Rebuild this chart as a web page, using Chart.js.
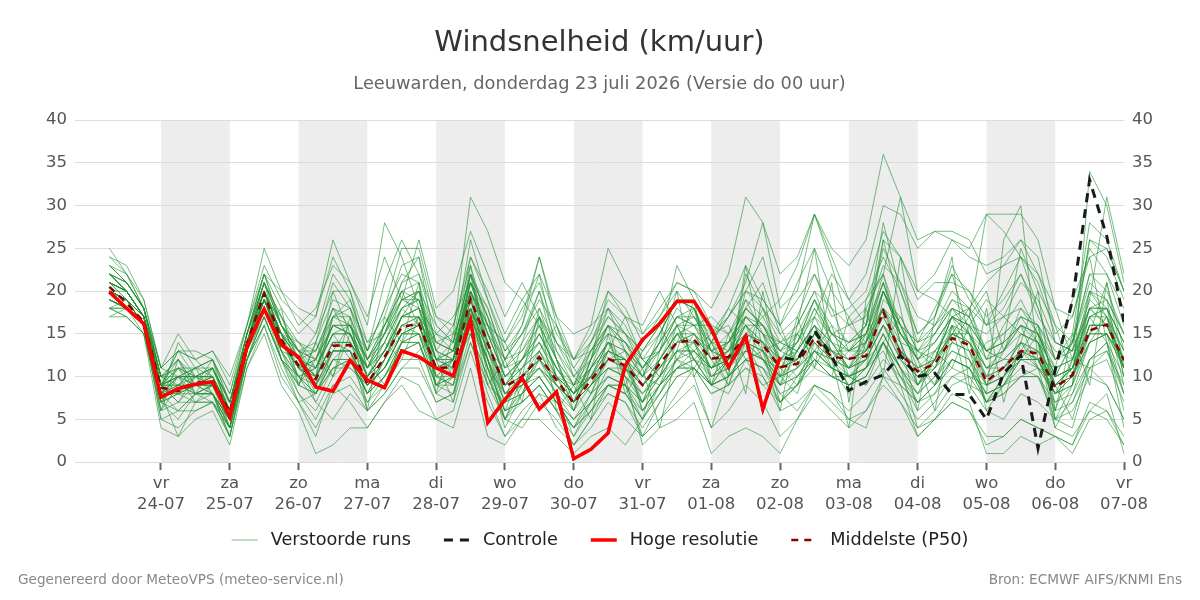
<!DOCTYPE html>
<html>
<head>
<meta charset="utf-8">
<title>Windsnelheid</title>
<script src="https://cdn.jsdelivr.net/npm/chart.js@4.4.1/dist/chart.umd.min.js"></script>
<style>
  body { margin: 0; background: #fff; }
  canvas { display: block; }
</style>
</head>
<body>
<canvas id="wind-chart" width="1200" height="600"></canvas>
<script>
// forecast hours after 23-07 00:00 (6-hourly)
const hours = [6, 12, 18, 24, 30, 36, 42, 48, 54, 60, 66, 72, 78, 84, 90, 96, 102, 108, 114, 120,
    126, 132, 138, 144, 150, 156, 162, 168, 174, 180, 186, 192, 198, 204, 210, 216, 222, 228, 234, 240,
    246, 252, 258, 264, 270, 276, 282, 288, 294, 300, 306, 312, 318, 324, 330, 336, 342, 348, 354, 360];

const dayTicks = [24, 48, 72, 96, 120, 144, 168, 192, 216, 240, 264, 288, 312, 336, 360];
const dayNames = ['vr', 'za', 'zo', 'ma', 'di', 'wo', 'do', 'vr', 'za', 'zo', 'ma', 'di', 'wo', 'do', 'vr'];
const dayDates = ['24-07', '25-07', '26-07', '27-07', '28-07', '29-07', '30-07', '31-07', '01-08', '02-08',
    '03-08', '04-08', '05-08', '06-08', '07-08'];
const shadedDays = [[24, 48], [72, 96], [120, 144], [168, 192], [216, 240], [264, 288], [312, 336]];

const seriesNames = ['Verstoorde runs', 'Controle', 'Hoge resolutie', 'Middelste (P50)'];

// hoge resolutie run (tot 10 dagen)
const hiresValues = [19.9, 18.0, 16.2, 7.6, 8.6, 9.1, 9.4, 5.3, 13.5, 17.9, 13.7, 12.3, 8.8, 8.3, 11.9,
    9.6, 8.7, 13.0, 12.3, 11.0, 10.1, 16.6, 4.6, 7.3, 9.8, 6.2, 8.2, 0.4, 1.5, 3.4, 11.3,
    14.3, 16.2, 18.8, 18.8, 15.6, 11.1, 14.7, 6.2, 12.3];

const controlValues = [19.9, 18.0, 16.2, 7.6, 8.6, 9.1, 9.4, 5.3, 13.5, 17.9, 13.7, 12.3, 8.8, 8.3, 11.9,
    9.6, 8.7, 13.0, 12.3, 11.0, 10.1, 16.6, 4.6, 7.3, 9.8, 6.2, 8.2, 0.4, 1.5, 3.4, 11.3,
    14.3, 16.2, 18.8, 18.8, 15.6, 11.1, 14.7, 6.2, 12.3,
    11.9, 15.4, 12.4, 8.4, 9.4, 10.2, 12.5, 10.0, 10.4, 7.9, 7.9, 5.0, 10.4, 12.5, 1.6, 10.8,
    18.9, 33.0, 26.4, 16.4];

const medianValues = [20.5, 18.6, 16.4, 8.7, 8.3, 9.3, 9.4, 5.9, 13.9, 19.7, 14.3, 11.3, 9.7, 13.6, 13.7,
    9.2, 12.3, 15.8, 16.2, 11.0, 11.1, 19.1, 13.9, 8.8, 10.0, 12.3, 9.6, 6.9, 9.6, 12.1, 11.3,
    9.0, 11.5, 14.0, 14.3, 12.1, 12.3, 14.7, 13.7, 11.1, 11.5, 14.5, 12.3, 12.1, 12.4, 17.6, 12.7,
    10.6, 11.5, 14.5, 13.7, 9.4, 11.1, 13.0, 12.7, 8.7, 10.2, 15.4, 16.1, 11.9];

// verstoorde runs
const memberRuns = [
    [23,21,18, 10,12,9,11, 7,15,21,17, 14,12,16,15, 11,15,19,20, 13,10,22,17, 9,12,15,11, 8,11,14,10, 7,10,16,17, 14,11,17,15, 9,13,18,14, 11,15,22,16, 12,9,16,12, 7,10,15,14, 6,12,19,17, 13],
    [19,18,16, 7,6,8,8, 4,13,18,13, 10,7,11,12, 8,10,13,14, 9,8,17,11, 6,8,10,7, 4,7,9,8, 6,9,12,11, 9,10,12,11, 8,9,12,10, 10,9,14,11, 8,10,12,11, 8,9,11,10, 7,8,12,14, 10],
    [25,22,19, 11,15,12,13, 9,16,25,20, 18,17,26,21, 16,28,24,18, 15,13,24,19, 14,17,24,16, 12,13,17,15, 11,14,18,16, 17,15,19,17, 13,16,20,15, 14,16,21,15, 13,16,19,17, 12,13,17,14, 9,11,18,16, 12],
    [17,17,15, 4,3,5,6, 2,11,15,9, 6,1,2,4, 4,7,9,6, 5,4,11,3, 2,5,5,3, 1,3,4,2, 5,8,12,14, 9,12,16,13, 10,8,14,11, 13,15,21,14, 9,12,18,15, 11,13,16,14, 4,8,14,17, 9],
    [21,20,17, 9,8,10,10, 6,14,20,15, 12,10,14,14, 10,12,16,17, 11,12,20,14, 8,10,13,9, 7,9,12,12, 9,11,14,15, 12,13,15,14, 11,12,15,13, 12,13,18,13, 10,12,15,14, 10,11,13,13, 9,10,16,16, 12],
    [22,20,17, 8,14,11,12, 5,13,19,15, 9,14,19,18, 13,18,22,21, 10,12,23,13, 11,14,17,12, 7,12,16,14, 10,14,17,16, 16,10,22,18, 15,12,16,11, 8,14,26,18, 9,13,16,15, 6,9,12,15, 10,14,22,20, 15],
    [20,19,17, 9,10,9,8, 5,14,19,13, 8,6,10,12, 7,9,14,15, 12,13,20,10, 5,9,12,10, 6,11,14,12, 7,12,15,13, 11,14,18,16, 12,14,19,16, 14,16,25,21, 15,17,22,20, 16,18,22,17, 14,13,26,24, 19],
    [18,18,16, 6,7,7,7, 4,13,18,14, 11,9,13,13, 8,12,15,16, 10,9,18,13, 7,9,11,8, 5,8,10,9, 3,5,8,11, 14,17,20,19, 16,19,22,17, 18,20,27,24, 20,22,26,25, 29,27,24,18, 12,15,28,26, 20],
    [22,21,18, 10,9,11,12, 8,15,22,16, 13,11,15,16, 12,16,20,21, 14,15,31,27, 21,19,16,10, 9,13,15,14, 12,10,12,15, 13,9,14,10, 7,10,13,12, 14,15,18,12, 9,11,16,14, 11,12,12,12, 8,10,17,18, 14],
    [19,18,16, 7,5,8,9, 4,12,17,12, 10,8,12,11, 9,11,14,14, 8,10,16,12, 6,11,15,11, 8,10,12,13, 11,13,16,15, 13,15,17,15, 14,13,16,14, 12,14,17,13, 11,13,15,15, 13,12,14,11, 10,11,15,17, 11],
    [24,22,18, 11,13,12,13, 10,16,23,19, 17,15,20,20, 14,17,23,24, 16,14,26,19, 13,15,20,14, 11,14,18,16, 12,13,17,16, 14,14,18,16, 13,14,17,15, 13,14,20,15, 12,14,17,16, 13,14,16,15, 12,13,18,18, 14],
    [20,19,16, 8,9,8,9, 5,13,19,14, 11,9,13,13, 6,9,12,12, 7,8,14,9, 5,7,9,6, 3,6,8,7, 4,7,10,11, 9,10,12,11, 7,9,11,10, 9,10,14,10, 7,9,12,11, 7,8,10,10, 5,7,11,12, 7],
    [21,19,16, 8,3,7,8, 3,13,20,15, 12,10,14,13, 9,11,15,15, 11,12,19,14, 9,10,12,8, 3,7,11,10, 2,4,5,7, 1,3,4,3, 1,5,9,7, 5,4,10,9, 3,5,8,7, 1,1,3,2, 3,2,6,8, 1],
    [22,20,17, 9,10,10,9, 7,14,21,16, 13,12,16,15, 10,13,17,18, 12,11,20,16, 10,12,14,10, 8,10,13,11, 9,12,15,16, 12,13,15,14, 11,12,15,13, 12,13,17,13, 11,12,15,14, 9,11,14,13, 9,10,16,16, 12],
    [18,17,15, 7,8,7,7, 5,12,17,12, 9,8,12,12, 8,10,14,14, 9,10,17,12, 8,9,11,9, 7,9,11,10, 8,11,13,13, 11,12,14,13, 10,11,13,12, 11,12,16,12, 10,11,14,13, 9,10,12,12, 8,9,14,15, 11],
    [23,21,18, 10,11,10,11, 7,15,20,16, 12,7,5,8, 6,8,11,13, 15,17,21,15, 12,16,24,17, 12,16,25,21, 15,17,21,20, 18,22,31,28, 22,24,29,25, 23,26,36,31, 26,27,27,26, 22,23,24,22, 18,17,25,22, 18],
    [20,19,17, 9,9,9,10, 6,14,19,14, 11,12,18,16, 13,18,25,25, 17,15,19,11, 8,9,10,7, 4,6,9,8, 5,9,11,12, 9,10,13,12, 9,10,12,11, 10,11,15,11, 4,6,9,10, 7,9,13,11, 4,3,6,5, 2],
    [21,20,17, 9,10,11,10, 6,14,20,15, 13,14,21,18, 14,15,18,16, 11,10,18,12, 5,4,7,5, 2,5,9,9, 7,10,13,12, 9,8,12,13, 14,16,20,18, 16,17,23,21, 17,16,18,16, 15,17,21,19, 14,13,18,19, 15],
    [19,18,16, 8,11,9,9, 5,13,18,12, 8,5,9,10, 7,10,13,14, 8,7,14,8, 3,6,8,7, 4,8,12,12, 10,15,19,18, 13,12,14,12, 8,6,9,8, 6,8,11,8, 5,7,10,11, 14,15,17,16, 13,12,20,17, 11],
    [22,21,18, 10,8,9,10, 6,14,21,16, 14,13,17,16, 12,14,18,19, 13,12,21,16, 12,15,18,14, 10,13,16,15, 13,15,19,19, 15,17,20,18, 14,13,16,12, 9,10,14,9, 7,9,11,10, 9,10,12,11, 8,9,15,15, 8],
    [19,18,15, 7,9,8,8, 5,13,19,14, 11,10,14,14, 9,11,15,16, 11,11,19,13, 9,10,12,9, 7,9,11,11, 8,10,13,14, 11,12,14,13, 11,14,19,15, 13,15,21,16, 14,16,20,18, 16,17,18,16, 12,14,21,19, 15],
    [20,19,17, 9,13,10,9, 5,14,20,14, 12,15,22,19, 13,21,26,22, 17,16,23,16, 14,18,21,15, 12,14,19,17, 15,18,21,20, 16,15,18,16, 12,10,12,10, 9,11,14,10, 6,8,10,9, 6,5,8,7, 5,6,10,9, 5],
    [21,20,17, 8,10,10,11, 7,14,19,15, 10,8,11,12, 9,12,16,17, 10,9,17,12, 7,8,10,7, 5,7,9,9, 7,9,11,12, 10,11,13,12, 10,12,15,13, 10,12,20,15, 12,15,19,18, 13,15,17,16, 9,11,18,16, 11],
    [18,18,16, 5,6,6,7, 3,12,16,10, 7,8,11,11, 9,12,16,15, 9,10,18,13, 9,11,13,10, 7,9,13,12, 6,9,12,13, 11,13,16,16, 13,12,14,12, 10,11,13,9, 7,8,12,11, 8,9,10,11, 9,10,14,15, 12],
    [22,20,17, 10,11,10,11, 6,15,21,17, 12,10,17,18, 11,15,20,19, 12,14,22,12, 5,10,18,12, 6,11,16,9, 5,13,20,10, 4,10,23,13, 6,16,25,12, 4,19,22,14, 6,17,24,9, 8,26,30,12, 11,19,24,14, 4],
    [20,19,16, 8,8,9,9, 5,14,19,14, 10,11,16,16, 10,14,18,19, 14,13,21,18, 12,13,17,13, 10,12,16,14, 11,14,17,18, 14,13,17,15, 13,15,19,14, 11,13,16,14, 9,12,17,15, 11,12,14,12, 10,11,17,17, 13],
    [21,20,17, 9,7,9,10, 6,13,19,14, 11,12,17,17, 12,15,19,19, 12,13,20,15, 10,12,15,11, 9,10,14,13, 10,13,16,16, 13,14,16,14, 12,13,16,14, 13,13,18,15, 12,14,17,15, 12,13,15,14, 11,12,17,18, 12],
    [19,18,16, 8,6,8,8, 5,12,17,12, 7,4,8,9, 6,8,11,11, 7,8,15,10, 6,7,9,6, 2,5,8,7, 3,7,10,11, 8,9,11,9, 7,9,12,10, 9,10,14,11, 7,9,12,11, 7,8,10,10, 6,7,12,13, 8],
    [23,21,18, 11,10,11,12, 7,15,22,16, 13,9,12,14, 11,14,19,20, 14,13,21,17, 13,16,22,17, 15,16,18,15, 13,16,19,18, 12,9,15,17, 19,23,29,24, 19,22,30,29, 25,27,26,24, 23,24,26,22, 16,14,26,25, 20],
    [20,19,17, 7,10,8,8, 4,13,18,13, 10,11,15,15, 10,13,17,18, 12,12,20,15, 10,11,13,9, 6,9,12,11, 9,12,15,14, 10,11,14,13, 9,10,13,11, 10,11,15,11, 8,10,13,12, 8,9,12,12, 7,9,34,30, 21],
    [21,19,17, 9,12,10,10, 6,14,20,15, 12,10,14,14, 11,13,17,17, 12,11,19,14, 8,10,12,9, 7,10,12,11, 9,11,14,15, 11,12,14,12, 11,13,16,13, 13,14,18,14, 13,15,18,17, 13,14,16,15, 10,11,16,16, 12],
    [20,19,16, 8,9,9,9, 6,14,20,15, 11,9,13,13, 9,11,15,15, 10,10,17,12, 7,8,10,7, 5,7,10,9, 6,8,11,11, 8,9,11,10, 6,7,9,8, 5,6,9,7, 4,5,7,6, 3,3,5,4, 3,2,7,6, 3],
    [22,20,17, 9,11,11,11, 7,14,20,16, 13,12,16,16, 12,16,21,22, 15,14,22,17, 11,13,16,12, 9,11,14,13, 11,13,17,17, 13,14,17,15, 12,14,18,15, 14,15,20,15, 13,14,17,16, 13,14,16,15, 11,12,18,18, 14],
    [19,18,16, 7,8,8,9, 5,13,18,13, 9,8,12,12, 8,10,14,15, 9,9,16,11, 6,7,9,6, 4,6,9,8, 5,8,11,11, 9,10,12,11, 9,11,13,11, 10,11,15,11, 9,11,13,12, 9,10,13,12, 8,10,14,15, 11],
    [21,20,17, 9,9,10,10, 6,14,21,16, 12,11,16,15, 10,13,17,18, 13,12,20,16, 11,12,16,12, 9,12,15,14, 11,14,23,19, 14,17,21,28, 18,20,29,23, 16,18,22,31, 20,19,17,18, 21,23,26,24, 14,13,19,31, 22],
    [22,20,17, 10,10,10,10, 6,14,19,15, 13,13,18,17, 11,13,16,16, 11,12,18,14, 9,11,14,10, 8,11,13,12, 10,12,15,15, 12,14,17,16, 14,15,17,13, 11,14,20,16, 14,15,18,17, 29,29,29,26, 18,12,11,9, 5],
    [20,19,16, 8,8,9,8, 5,13,19,14, 11,10,13,13, 9,11,15,16, 11,10,18,13, 8,9,11,9, 7,9,11,10, 8,10,13,13, 10,12,13,12, 10,11,14,12, 11,12,16,12, 10,12,14,13, 10,11,13,12, 9,11,16,16, 11],
    [21,20,17, 9,10,10,11, 6,14,20,15, 12,11,15,15, 10,12,17,17, 12,12,21,15, 10,12,14,11, 8,10,13,12, 9,11,14,14, 11,12,15,14, 12,12,15,13, 11,12,16,13, 11,12,15,14, 11,11,14,13, 10,11,15,15, 12],
    [18,19,17, 6,9,11,8, 3,12,16,18, 9,14,10,17, 6,17,14,21, 8,15,15,9, 12,7,17,6, 9,5,15,8, 11,4,13,19, 9,15,8,20, 10,17,11,21, 7,18,10,24, 12,6,16,8, 18,7,14,20, 6,15,9,21, 11],
    [24,23,19, 11,13,13,12, 8,16,22,20, 16,18,23,21, 17,24,19,26, 18,20,27,22, 17,21,17,14, 12,15,20,18, 14,17,20,17, 15,18,23,19, 16,21,25,20, 17,19,24,20, 15,17,23,19, 16,20,24,21, 15,17,24,25, 20],
    [17,18,16, 5,4,6,7, 3,11,16,11, 7,3,9,7, 4,7,10,9, 5,6,13,7, 3,5,8,4, 2,4,7,5, 3,5,7,9, 4,6,9,7, 3,5,8,6, 4,6,10,7, 3,5,7,6, 2,3,5,4, 3,1,5,6, 2],
    [21,20,17, 10,12,9,12, 7,15,22,18, 15,17,24,20, 12,15,21,24, 13,16,24,20, 15,19,22,13, 9,14,17,15, 12,15,19,18, 10,12,18,21, 15,17,22,18, 13,16,26,24, 19,21,21,20, 17,19,22,18, 12,14,22,22, 16],
    [20,19,17, 8,10,7,9, 5,14,19,17, 13,10,20,15, 11,14,12,17, 14,13,18,9, 7,14,20,12, 7,12,20,17, 16,20,16,12, 9,12,20,24, 16,11,17,22, 19,16,28,20, 14,18,22,15, 10,14,25,20, 16,10,15,21, 13],
    [22,21,18, 9,11,8,11, 7,13,17,12, 10,9,17,19, 13,16,20,16, 10,12,17,16, 14,10,11,8, 6,12,18,13, 10,9,11,13, 15,16,12,9, 10,13,11,15, 16,14,18,16, 12,13,11,16, 19,17,15,14, 9,5,12,14, 8],
    [19,18,16, 9,7,10,8, 4,14,20,12, 9,12,10,15, 12,9,14,17, 12,7,18,11, 4,8,13,16, 11,8,10,9, 13,16,12,10, 14,18,16,12, 9,15,12,10, 17,13,20,16, 11,9,14,17, 20,13,16,11, 8,12,17,14, 6],
    [23,22,18, 9,13,12,10, 6,15,21,14, 12,8,13,16, 10,13,18,20, 9,12,22,18, 12,15,19,16, 10,8,13,17, 12,10,15,12, 14,10,13,18, 12,15,13,16, 10,12,14,17, 13,11,15,18, 12,16,19,15, 10,14,20,18, 10],
    [20,20,17, 8,10,9,10, 4,13,18,15, 14,11,15,12, 8,12,17,20, 16,14,22,14, 9,12,17,10, 8,13,16,13, 6,9,14,18, 13,12,16,14, 7,9,15,12, 9,11,19,17, 13,12,17,16, 9,13,18,15, 5,9,20,19, 10],
    [18,17,15, 6,12,8,7, 4,12,18,13, 12,13,18,14, 11,16,19,18, 9,11,15,10, 5,8,12,10, 8,10,14,11, 7,12,16,12, 11,13,19,15, 11,9,13,11, 10,9,12,10, 8,12,17,13, 7,10,13,16, 5,4,11,13, 9]
];

const memberColor = 'rgba(34, 145, 50, 0.6)';

function toPoints(values) {
    return values.map((v, i) => ({ x: hours[i], y: v }));
}

const datasets = [
    {
        label: seriesNames[2],
        data: toPoints(hiresValues),
        borderColor: '#ff0000',
        borderWidth: 3.5,
        order: 0
    },
    {
        label: seriesNames[1],
        data: toPoints(controlValues),
        borderColor: '#1a1a1a',
        borderWidth: 3,
        borderDash: [9, 7],
        order: 1
    },
    {
        label: seriesNames[3],
        data: toPoints(medianValues),
        borderColor: '#8b0000',
        borderWidth: 2.5,
        borderDash: [7, 6],
        order: 2
    }
];

memberRuns.forEach((run, i) => {
    datasets.push({
        label: i === 0 ? seriesNames[0] : '',
        data: toPoints(run),
        borderColor: memberColor,
        borderWidth: 1,
        order: 3
    });
});

// grey background for every other day
const dayBands = {
    id: 'dayBands',
    beforeDraw(chart) {
        const { ctx, chartArea, scales } = chart;
        ctx.save();
        ctx.fillStyle = '#ededed';
        shadedDays.forEach(([from, to]) => {
            const x0 = scales.x.getPixelForValue(from);
            const x1 = scales.x.getPixelForValue(to);
            ctx.fillRect(x0, chartArea.top, x1 - x0, chartArea.bottom - chartArea.top);
        });
        ctx.restore();
    }
};

// legend with line samples + footer texts
const lineLegend = {
    id: 'lineLegend',
    afterDraw(chart) {
        const ctx = chart.ctx;
        const items = seriesNames.map(name => chart.data.datasets.find(d => d.label === name));
        const sampleW = 26, gapText = 13, gapItem = 33, y = 540;
        ctx.save();
        ctx.font = "17.7px 'DejaVu Sans', sans-serif";
        ctx.textBaseline = 'middle';
        let total = 0;
        items.forEach((d, i) => {
            total += sampleW + gapText + ctx.measureText(d.label).width;
            if (i < items.length - 1) total += gapItem;
        });
        let x = (chart.width - total) / 2;
        items.forEach(d => {
            ctx.strokeStyle = d.borderColor;
            ctx.lineWidth = d.borderWidth;
            ctx.setLineDash(d.borderDash || []);
            ctx.beginPath();
            ctx.moveTo(x, y);
            ctx.lineTo(x + sampleW, y);
            ctx.stroke();
            ctx.setLineDash([]);
            x += sampleW + gapText;
            ctx.fillStyle = '#222';
            ctx.fillText(d.label, x, y);
            x += ctx.measureText(d.label).width + gapItem;
        });

        ctx.font = "13.6px 'DejaVu Sans', sans-serif";
        ctx.fillStyle = '#888';
        ctx.textAlign = 'left';
        ctx.fillText('Gegenereerd door MeteoVPS (meteo-service.nl)', 18, 580);
        ctx.textAlign = 'right';
        ctx.fillText('Bron: ECMWF AIFS/KNMI Ens', 1182, 580);
        ctx.restore();
    }
};

Chart.defaults.font.family = "'DejaVu Sans', sans-serif";

const yTicks = { stepSize: 5, color: '#555', font: { size: 16.5 }, padding: 8 };

new Chart(document.getElementById('wind-chart'), {
    type: 'line',
    data: { datasets: datasets },
    options: {
        responsive: false,
        animation: false,
        layout: { padding: { left: 38, right: 39, top: 0, bottom: 82 } },
        elements: {
            point: { radius: 0 },
            line: { tension: 0 }
        },
        plugins: {
            legend: { display: false },
            tooltip: { enabled: false },
            title: {
                display: true,
                text: 'Windsnelheid (km/uur)',
                color: '#333',
                font: { size: 29, weight: 'normal' },
                padding: { top: 26, bottom: 6 }
            },
            subtitle: {
                display: true,
                text: 'Leeuwarden, donderdag 23 juli 2026 (Versie do 00 uur)',
                color: '#666',
                font: { size: 17.8 },
                padding: { top: 7, bottom: 25 }
            }
        },
        scales: {
            x: {
                type: 'linear',
                min: -6,
                max: 360,
                afterBuildTicks: scale => {
                    scale.ticks = dayTicks.map(v => ({ value: v }));
                },
                ticks: {
                    autoSkip: false,
                    maxRotation: 0,
                    color: '#555',
                    font: { size: 16.5, lineHeight: 1.27 },
                    padding: 3,
                    callback: value => {
                        const i = dayTicks.indexOf(value);
                        return [dayNames[i], dayDates[i]];
                    }
                },
                grid: { drawOnChartArea: false, tickLength: 8, tickWidth: 2, tickColor: '#666' },
                border: { display: false }
            },
            y: {
                min: 0,
                max: 40,
                ticks: yTicks,
                grid: { color: '#dcdcdc', drawTicks: false },
                border: { display: false }
            },
            y2: {
                position: 'right',
                min: 0,
                max: 40,
                ticks: yTicks,
                grid: { drawOnChartArea: false, drawTicks: false },
                border: { display: false }
            }
        }
    },
    plugins: [dayBands, lineLegend]
});
</script>
</body>
</html>
